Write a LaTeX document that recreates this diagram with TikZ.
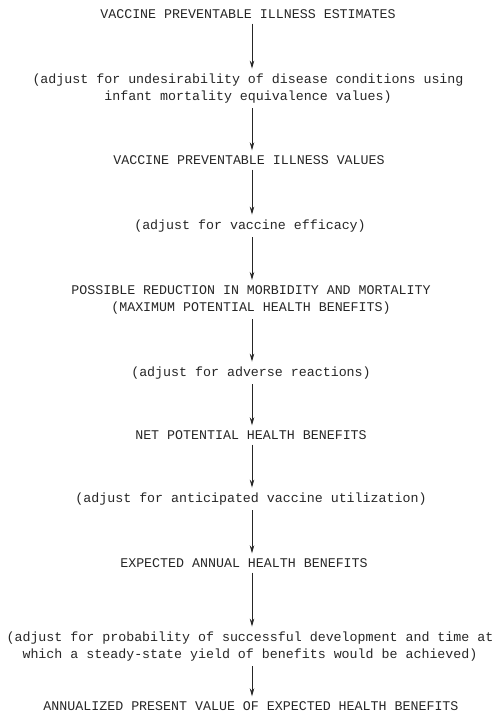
\documentclass[tikz,border=0pt]{standalone}
\usepackage{fontspec}
\newfontfamily\typefont{Liberation Mono}
\usetikzlibrary{arrows.meta}
\begin{document}
\begin{tikzpicture}[x=1pt,y=-1pt,
  txt/.style={font=\typefont\fontsize{13.3}{17}\selectfont, inner xsep=0pt, inner ysep=5pt, align=center, text=black!85},
  arr/.style={draw=black!85, line width=0.9pt, -{Stealth[length=8pt,width=4.5pt]}}]
\useasboundingbox (0,0) rectangle (502,715);
\coordinate (ax) at (252,0);
\node[txt] (n1) at (248,14) {VACCINE PREVENTABLE ILLNESS ESTIMATES};
\node[txt] (a1) at (248,88.5) {(adjust for undesirability of disease conditions using\\infant mortality equivalence values)};
\node[txt] (n2) at (249,160) {VACCINE PREVENTABLE ILLNESS VALUES};
\node[txt] (a2) at (250,226) {(adjust for vaccine efficacy)};
\node[txt] (n3) at (251,299.5) {POSSIBLE REDUCTION IN MORBIDITY AND MORTALITY\\(MAXIMUM POTENTIAL HEALTH BENEFITS)};
\node[txt] (a3) at (251,373) {(adjust for adverse reactions)};
\node[txt] (n4) at (251,435) {NET POTENTIAL HEALTH BENEFITS};
\node[txt] (a4) at (251,499) {(adjust for anticipated vaccine utilization)};
\node[txt] (n5) at (244,563) {EXPECTED ANNUAL HEALTH BENEFITS};
\node[txt] (a5) at (250,646.5) {(adjust for probability of successful development and time at\\which a steady-state yield of benefits would be achieved)};
\node[txt] (n6) at (251,706) {ANNUALIZED PRESENT VALUE OF EXPECTED HEALTH BENEFITS};
\foreach \s/\t in {n1/a1,a1/n2,n2/a2,a2/n3,n3/a3,a3/n4,n4/a4,a4/n5,n5/a5,a5/n6}
  \draw[arr] (\s.south -| ax) -- (\t.north -| ax);
\end{tikzpicture}
\end{document}
